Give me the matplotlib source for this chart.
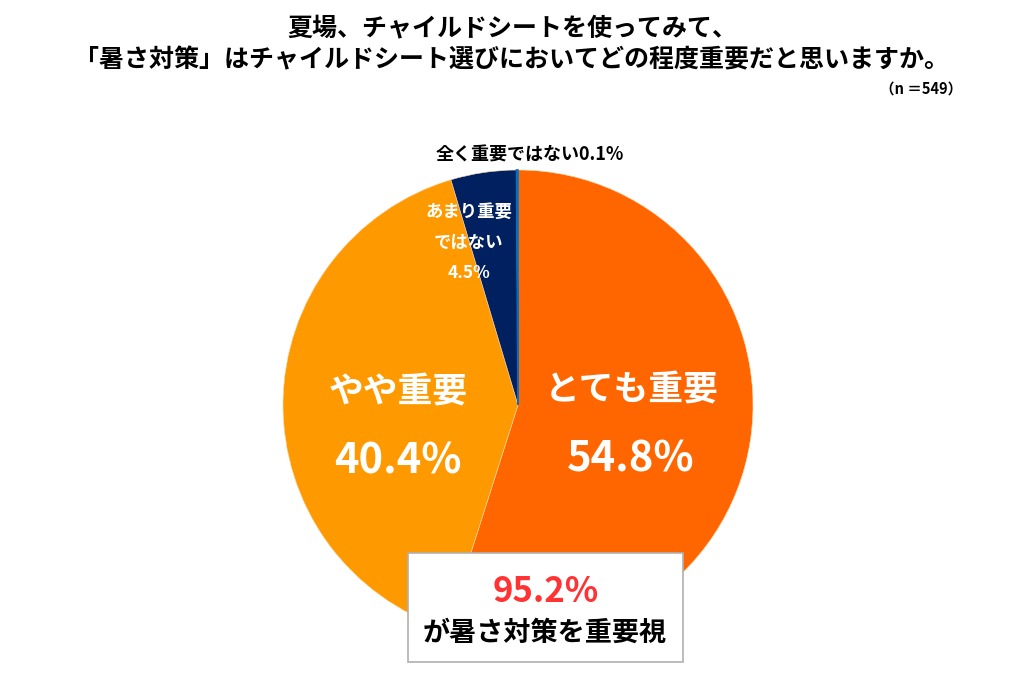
import matplotlib.pyplot as plt
from matplotlib.patches import Rectangle

plt.rcParams['font.family'] = ['Noto Sans CJK JP', 'DejaVu Sans']

labels = ['とても重要', 'やや重要', 'あまり重要\nではない', '全く重要ではない']
values = [54.8, 40.4, 4.5, 0.1]
colors = ['#FF6600', '#FF9900', '#002060', '#0070C0']
n_total = 549
top2 = 95.2

W, H = 1024, 682
fig = plt.figure(figsize=(W / 100, H / 100), dpi=100)

def fx(x):
    return x / W

def fy(y):
    return 1 - y / H

# pie: center ~ (518, 405), radius ~ 235 px
cx, cy, r = 518, 405, 235
ax = fig.add_axes([fx(cx - r), fy(cy + r), 2 * r / W, 2 * r / H])
wedges, _ = ax.pie(values, colors=colors, startangle=90, counterclock=False,
                   wedgeprops=dict(linewidth=0.4, edgecolor='#FFD9B0'))
# tiny slice: give it its own colour as edge so it shows as a thin blue line
wedges[3].set_edgecolor(colors[3])
wedges[3].set_linewidth(1.2)
ax.set_xlim(-1, 1)
ax.set_ylim(-1, 1)
ax.set_aspect('equal')
ax.axis('off')

# title
fig.text(fx(512), fy(28), '夏場、チャイルドシートを使ってみて、', ha='center', va='center',
         fontsize=18, fontweight='bold')
fig.text(fx(512), fy(60), '「暑さ対策」はチャイルドシート選びにおいてどの程度重要だと思いますか。',
         ha='center', va='center', fontsize=18, fontweight='bold')
fig.text(fx(962), fy(89), f'（n ＝{n_total}）', ha='right', va='center', fontsize=10.5,
         fontweight='bold')

# slice labels
fig.text(fx(632), fy(390), labels[0], ha='center', va='center', color='white',
         fontsize=25, fontweight='bold')
fig.text(fx(631), fy(460), f'{values[0]}%', ha='center', va='center', color='white',
         fontsize=30, fontweight='bold')
fig.text(fx(398), fy(392), labels[1], ha='center', va='center', color='white',
         fontsize=25, fontweight='bold')
fig.text(fx(398), fy(462), f'{values[1]}%', ha='center', va='center', color='white',
         fontsize=30, fontweight='bold')
fig.text(fx(469), fy(212), 'あまり重要', ha='center', va='center', color='white',
         fontsize=12.5, fontweight='bold')
fig.text(fx(469), fy(243), 'ではない', ha='center', va='center', color='white',
         fontsize=12.5, fontweight='bold')
fig.text(fx(469), fy(273), f'{values[2]}%', ha='center', va='center', color='white',
         fontsize=12.5, fontweight='bold')
fig.text(fx(530), fy(155), f'{labels[3]}{values[3]}%', ha='center', va='center',
         fontsize=13, fontweight='bold')

# summary box
box = Rectangle((fx(408), fy(662)), (683 - 408) / W, (662 - 553) / H,
                transform=fig.transFigure, facecolor='white', edgecolor='#B0B0B0',
                linewidth=1.2, zorder=5)
fig.add_artist(box)
fig.text(fx(546), fy(591), f'{top2}%', ha='center', va='center', color='#FF3333',
         fontsize=25, fontweight='bold', zorder=6)
fig.text(fx(545), fy(633), 'が暑さ対策を重要視', ha='center', va='center',
         fontsize=19.5, fontweight='bold', zorder=6)

fig.savefig('out.png', dpi=100, facecolor='white')
